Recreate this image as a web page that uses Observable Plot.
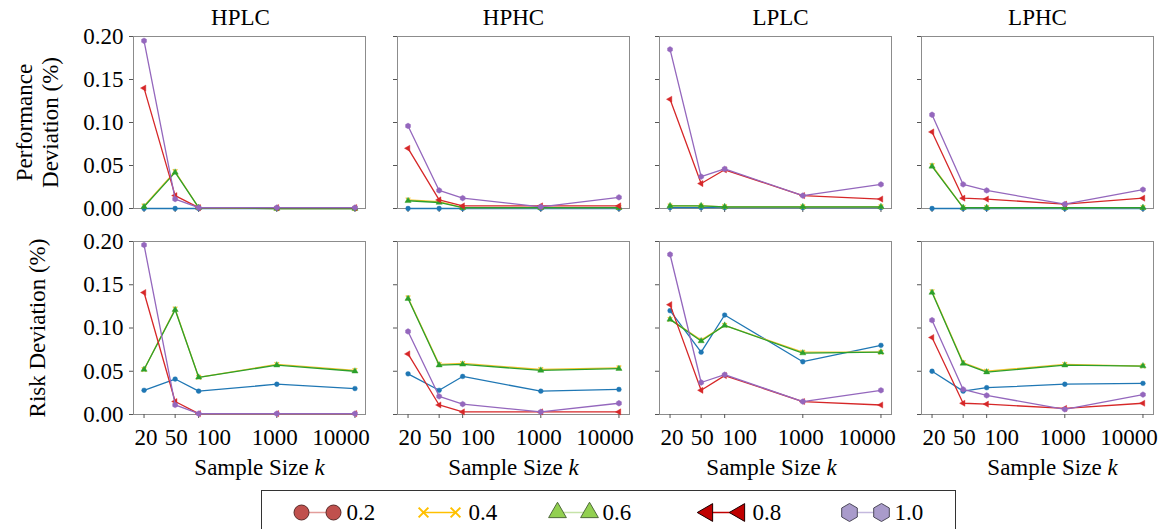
<!DOCTYPE html>
<html>
<head>
<meta charset="utf-8">
<script src="https://cdn.jsdelivr.net/npm/d3@7"></script>
<script src="https://cdn.jsdelivr.net/npm/@observablehq/plot@0.6"></script>
<style>
html, body { margin: 0; padding: 0; background: #fff; }
#chart { position: relative; width: 1166px; height: 529px; overflow: hidden; }
#chart svg { position: absolute; max-width: none !important; background: transparent !important; }
#chart svg, #chart svg text { font-family: "Liberation Serif", "DejaVu Serif", serif !important; }
</style>
</head>
<body>
<div id="chart"></div>
<script>
// ---------------- data ----------------
const ks = [20, 50, 100, 1000, 10000];
const kLabels = ["20", "50", "100", "1000", "10000"];
const levels = ["0.2", "0.4", "0.6", "0.8", "1.0"];
const settings = ["HPLC", "HPHC", "LPLC", "LPHC"];
const rowLabels = ["Performance\nDeviation (%)", "Risk Deviation (%)"];
const yTicks = [0, 0.05, 0.10, 0.15, 0.20];
const xLabel = "Sample Size k";

// Performance deviation, series in order of levels
const perfHPLC = [
  [0.000, 0.000, 0.000, 0.000, 0.000],
  [0.003, 0.043, 0.001, 0.000, 0.000],
  [0.002, 0.042, 0.001, 0.000, 0.000],
  [0.140, 0.015, 0.001, 0.001, 0.001],
  [0.195, 0.011, 0.001, 0.001, 0.001]
];
const perfHPHC = [
  [0.000, 0.000, 0.000, 0.000, 0.000],
  [0.010, 0.008, 0.001, 0.001, 0.001],
  [0.009, 0.007, 0.001, 0.001, 0.001],
  [0.070, 0.010, 0.003, 0.003, 0.003],
  [0.096, 0.021, 0.012, 0.002, 0.013]
];
const perfLPLC = [
  [0.001, 0.001, 0.001, 0.001, 0.001],
  [0.003, 0.003, 0.002, 0.002, 0.002],
  [0.003, 0.003, 0.002, 0.002, 0.002],
  [0.127, 0.029, 0.045, 0.015, 0.011],
  [0.185, 0.037, 0.046, 0.015, 0.028]
];
const perfLPHC = [
  [0.000, 0.000, 0.000, 0.000, 0.000],
  [0.050, 0.001, 0.001, 0.001, 0.001],
  [0.049, 0.001, 0.001, 0.001, 0.001],
  [0.089, 0.012, 0.011, 0.005, 0.012],
  [0.109, 0.028, 0.021, 0.005, 0.022]
];
// Risk deviation
const riskHPLC = [
  [0.028, 0.041, 0.027, 0.035, 0.030],
  [0.052, 0.122, 0.043, 0.058, 0.051],
  [0.052, 0.121, 0.043, 0.057, 0.050],
  [0.141, 0.015, 0.001, 0.001, 0.001],
  [0.196, 0.011, 0.001, 0.001, 0.001]
];
const riskHPHC = [
  [0.047, 0.028, 0.044, 0.027, 0.029],
  [0.135, 0.058, 0.059, 0.052, 0.054],
  [0.134, 0.057, 0.058, 0.051, 0.053],
  [0.070, 0.011, 0.003, 0.003, 0.003],
  [0.096, 0.021, 0.012, 0.003, 0.013]
];
const riskLPLC = [
  [0.120, 0.072, 0.115, 0.061, 0.080],
  [0.110, 0.086, 0.103, 0.072, 0.072],
  [0.110, 0.085, 0.103, 0.071, 0.072],
  [0.127, 0.028, 0.045, 0.015, 0.011],
  [0.185, 0.037, 0.046, 0.015, 0.028]
];
const riskLPHC = [
  [0.050, 0.027, 0.031, 0.035, 0.036],
  [0.142, 0.060, 0.050, 0.058, 0.056],
  [0.141, 0.059, 0.049, 0.057, 0.056],
  [0.089, 0.013, 0.012, 0.007, 0.013],
  [0.109, 0.029, 0.022, 0.006, 0.023]
];

// ---------------- styles ----------------
const FONT = "'Liberation Serif', 'DejaVu Serif', serif";
const FS = 23;
const lineColors = ["#1f77b4", "#f2c12e", "#2ca02c", "#d62728", "#9467bd"];
const legendFill = ["#c0504d", "#ffc000", "#92d050", "#c00000", "#a99bcb"];
const legendEdge = ["#5a2a28", "#ffc000", "#4f6b3a", "#1a0000", "#4d4a5a"];
const legendLine = ["#e39d9b", "#ffc000", "#c6e3a8", "#c00000", "#c4b9de"];

const triLeft = {
  draw(context, size) {
    const s = Math.sqrt(size * 4 / Math.sqrt(3));
    const h = s * Math.sqrt(3) / 2;
    context.moveTo(-2 * h / 3, 0);
    context.lineTo(h / 3, -s / 2);
    context.lineTo(h / 3, s / 2);
    context.closePath();
  }
};
const symbols = ["circle", "times", "triangle", triLeft, "hexagon"];
const markerR = [2.4, 2.2, 2.3, 2.3, 2.5];
const legendR = [7.5, 4.5, 6.6, 6.6, 7.8];

// ---------------- layout ----------------
const frameLefts = [133, 397, 659, 921];
const frameTops = [36, 241];
const frameW = 232;
const frameHs = [172, 173];
const tickLabelShift = [2, 1, 15, -2, -14];
const titleShift = [-9, 0, 5, 0];
const xLabelShift = [10, 0, -4, 15];
const legendShift = [0, -15, -18, -5, 0];
const lg = Math.log10;
const pad = 0.05 * (lg(ks[ks.length - 1]) - lg(ks[0]));
const xDomain = [Math.pow(10, lg(ks[0]) - pad), Math.pow(10, lg(ks[ks.length - 1]) + pad)];

const chart = document.getElementById("chart");

function panel(row, col, data) {
  const mL = col === 0 ? 133 : 30;
  const mR = 10;
  const mT = row === 0 ? 36 : 10;
  const mB = row === 1 ? 80 : 14;
  const fh = frameHs[row];

  const marks = [
    Plot.frame({stroke: "#8c8c8c", strokeWidth: 1}),
    Plot.axisY({ticks: yTicks, tickSize: 4, tickPadding: 6, stroke: "#555", fontSize: FS, fontFamily: FONT,
      tickFormat: col === 0 ? d3.format(".2f") : () => "", label: null}),
    Plot.axisX({ticks: ks, tickSize: 4, stroke: "#555", tickFormat: () => "", label: null})
  ];
  if (row === 1) {
    ks.forEach((k, i) => {
      marks.push(Plot.text([k], {x: d => d, text: () => kLabels[i], frameAnchor: "bottom",
        textAnchor: "middle", lineAnchor: "middle", dy: 23, dx: tickLabelShift[i], fontSize: FS, fontFamily: FONT}));
    });
  }
  data.forEach((vals, s) => {
    const d = vals.map((v, i) => ({k: ks[i], v}));
    marks.push(Plot.line(d, {x: "k", y: "v", stroke: lineColors[s], strokeWidth: 1.3}));
    const isTimes = symbols[s] === "times";
    marks.push(Plot.dot(d, {x: "k", y: "v", symbol: symbols[s], r: markerR[s],
      fill: isTimes ? "none" : lineColors[s], stroke: lineColors[s], strokeWidth: isTimes ? 1.2 : 0.4}));
  });
  if (row === 0) {
    marks.push(Plot.text([settings[col]], {frameAnchor: "top", textAnchor: "middle", lineAnchor: "middle",
      dy: -19, dx: titleShift[col], fontSize: FS, fontFamily: FONT}));
  }
  if (col === 0) {
    marks.push(Plot.text([rowLabels[row]], {frameAnchor: "left", textAnchor: "middle", lineAnchor: "middle",
      rotate: -90, dx: -97, fontSize: FS, lineHeight: 1.15, fontFamily: FONT}));
  }
  if (row === 1) {
    marks.push(Plot.text([xLabel], {frameAnchor: "bottom", textAnchor: "middle", lineAnchor: "middle",
      dy: 53, dx: xLabelShift[col], fontSize: FS, fontFamily: FONT}));
  }

  const svg = Plot.plot({
    width: mL + frameW + mR,
    height: mT + fh + mB,
    marginLeft: mL, marginRight: mR, marginTop: mT, marginBottom: mB,
    x: {type: "log", domain: xDomain},
    y: {domain: [0, 0.2]},
    style: {background: "transparent", overflow: "visible", fontFamily: FONT, fontSize: FS + "px"},
    marks
  });
  svg.style.position = "absolute";
  svg.style.left = (frameLefts[col] - mL) + "px";
  svg.style.top = (frameTops[row] - mT) + "px";
  svg.style.fontFamily = FONT;
  // italic k in the x label
  d3.select(svg).selectAll("text").filter(function () { return this.textContent === xLabel; })
    .each(function () {
      const t = d3.select(this);
      const cut = xLabel.lastIndexOf(" ");
      t.selectAll("*").remove();
      t.text(xLabel.slice(0, cut + 1));
      t.append("tspan").attr("font-style", "italic").text(xLabel.slice(cut + 1));
    });
  chart.appendChild(svg);
}

const perfData = [perfHPLC, perfHPHC, perfLPLC, perfLPHC];
const riskData = [riskHPLC, riskHPHC, riskLPLC, riskLPHC];
perfData.forEach((d, c) => panel(0, c, d));
riskData.forEach((d, c) => panel(1, c, d));

// ---------------- legend ----------------
(function legend() {
  const W = 696, H = 50;
  const step = 137.75, hw = 32;
  const marks = [Plot.frame({stroke: "#333", strokeWidth: 1})];
  levels.forEach((lv, i) => {
    const sh = legendShift[i];
    marks.push(Plot.tickY([lv], {x: d => d, y: () => 0, dx: sh, stroke: legendLine[i], strokeWidth: 1.5}));
    const isTimes = symbols[i] === "times";
    for (const off of [-hw / 2, hw / 2]) {
      marks.push(Plot.dot([lv], {x: d => d, y: () => 0, dx: off + sh, symbol: symbols[i], r: legendR[i],
        fill: isTimes ? "none" : legendFill[i], stroke: isTimes ? legendFill[i] : legendEdge[i],
        strokeWidth: isTimes ? 2 : 1}));
    }
    marks.push(Plot.text([lv], {x: d => d, y: () => 0, dx: hw / 2 + 13 + sh, textAnchor: "start",
      lineAnchor: "middle", fontSize: FS, fontFamily: FONT}));
  });
  const svg = Plot.plot({
    width: W, height: H,
    marginLeft: 1, marginRight: 1, marginTop: 1, marginBottom: 1,
    x: {type: "band", domain: levels, range: [41, 41 + 4 * step + hw], paddingInner: 1 - hw / step,
      paddingOuter: 0, align: 0, axis: null},
    y: {domain: [-1, 1], range: [0, 46], axis: null},
    style: {background: "transparent", overflow: "visible", fontFamily: FONT, fontSize: FS + "px"},
    marks
  });
  svg.style.position = "absolute";
  svg.style.left = "260px";
  svg.style.top = "489px";
  svg.style.fontFamily = FONT;
  chart.appendChild(svg);
})();
</script>
</body>
</html>
